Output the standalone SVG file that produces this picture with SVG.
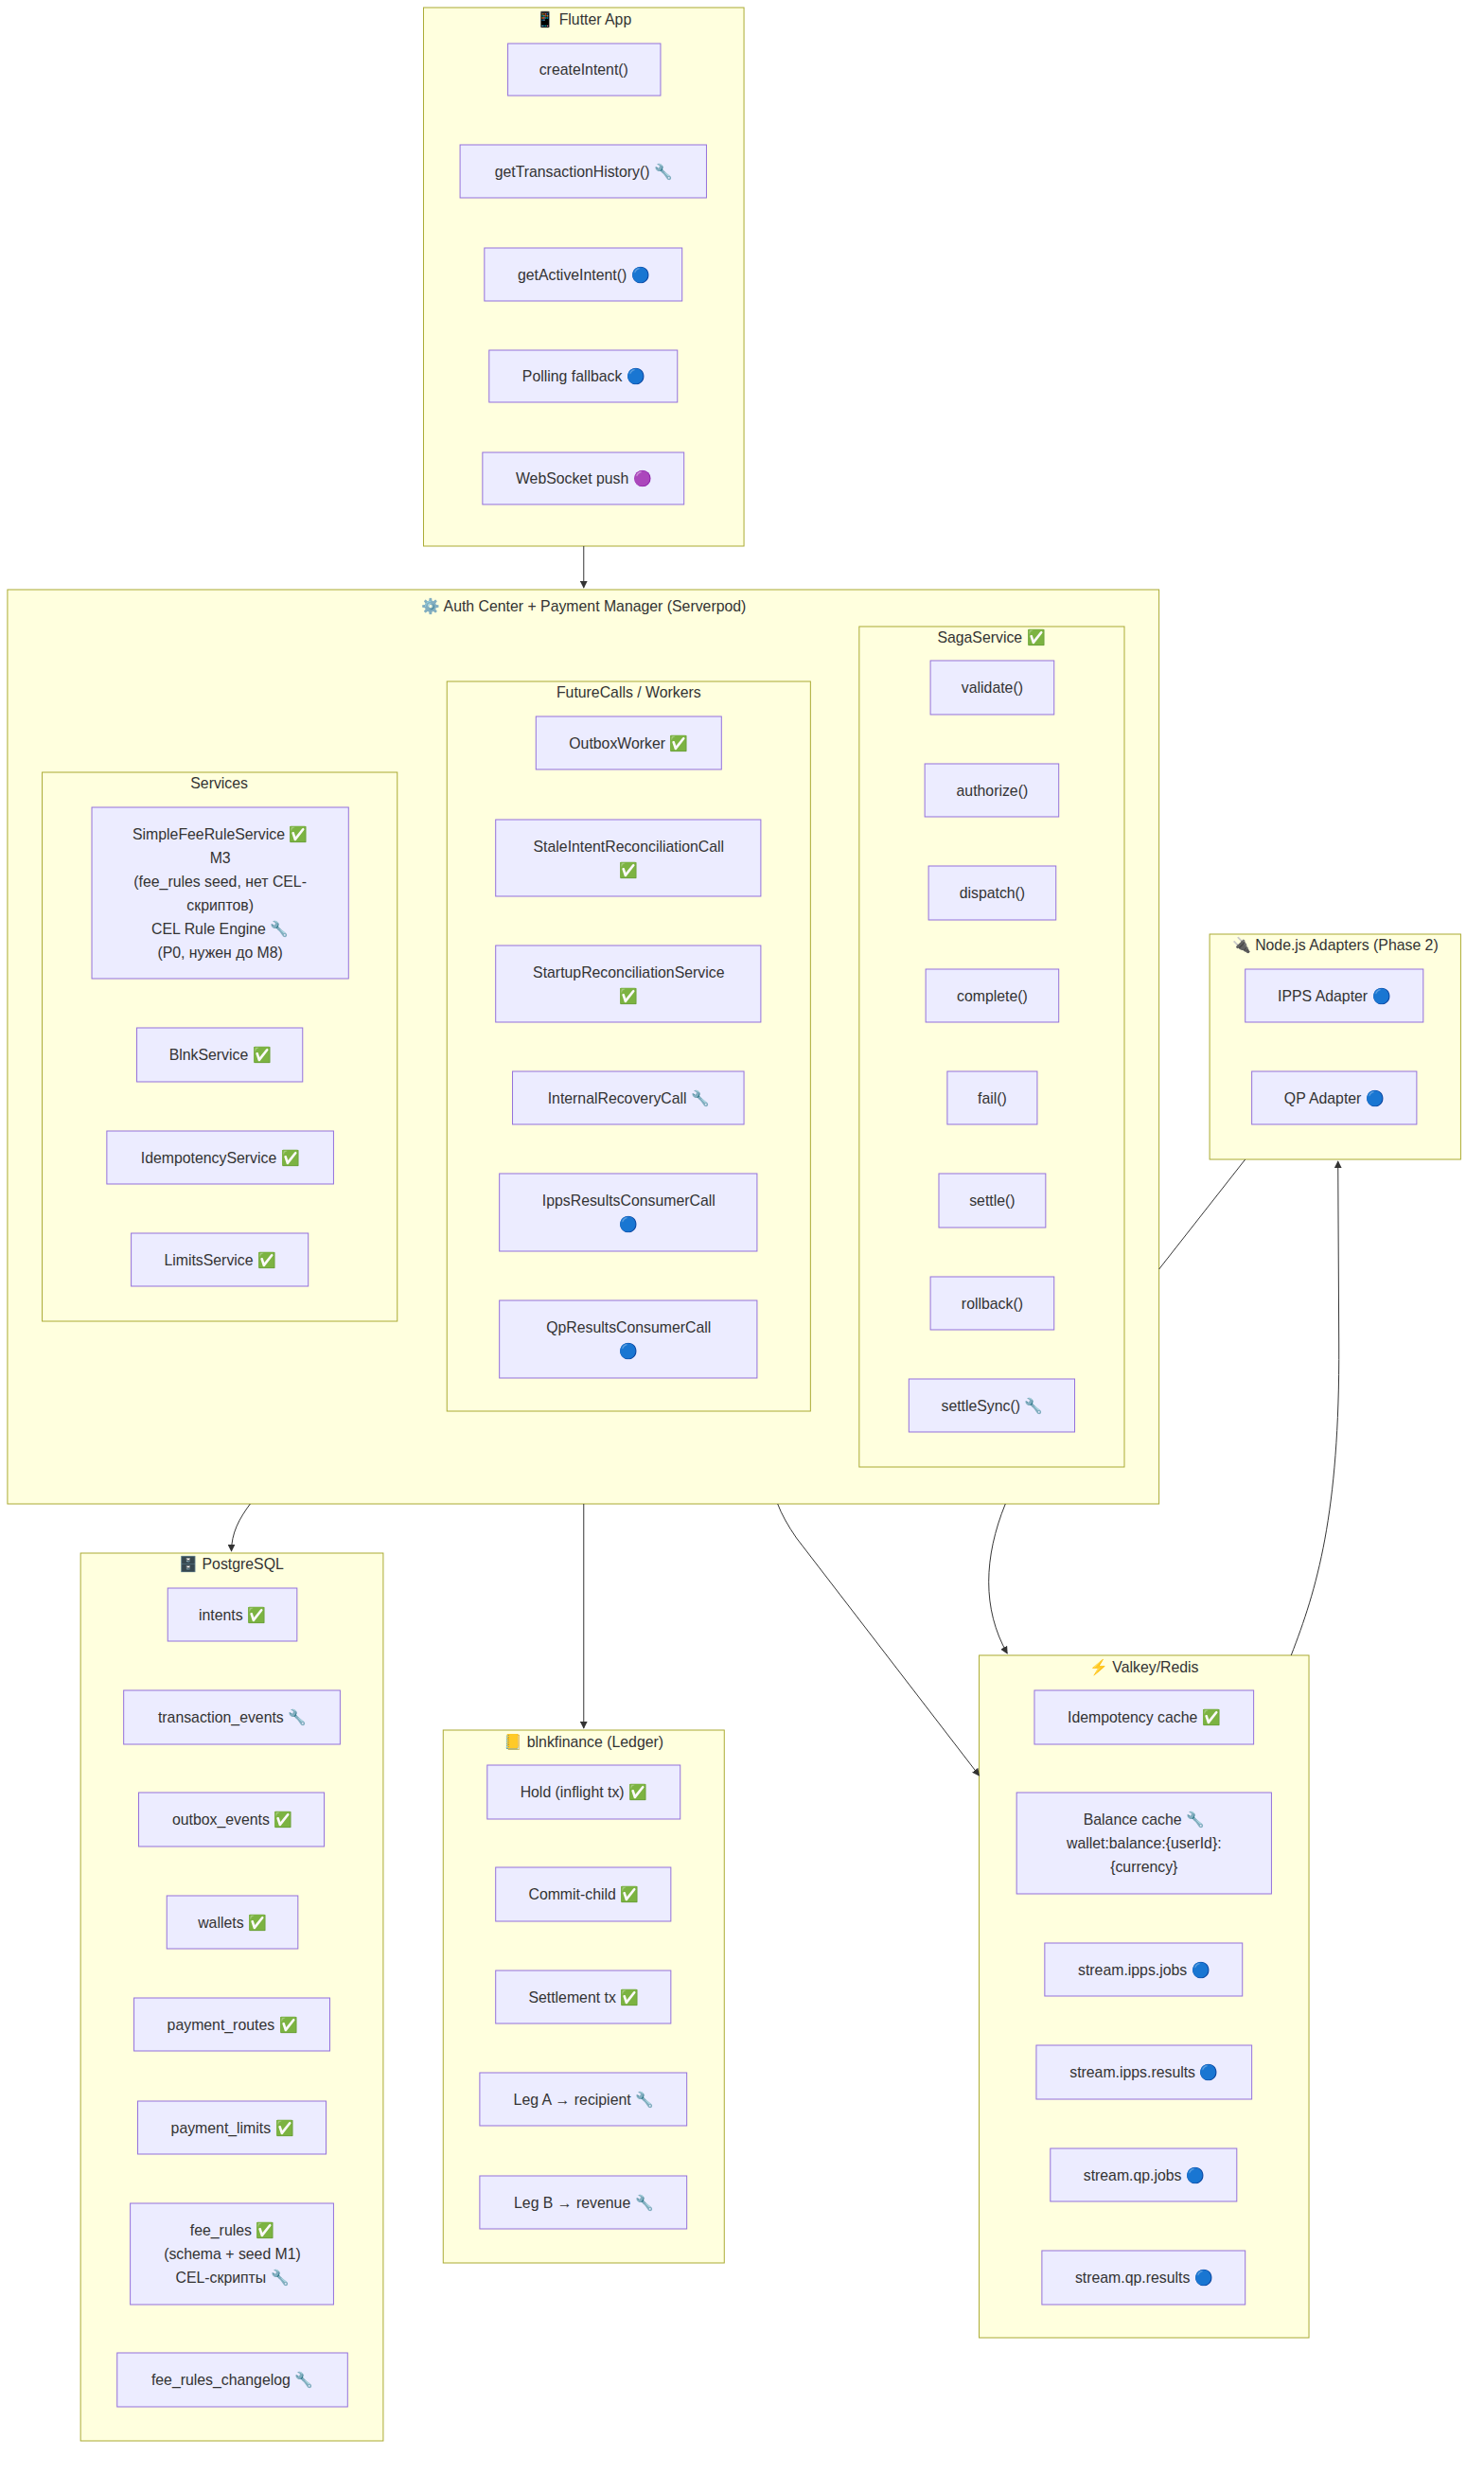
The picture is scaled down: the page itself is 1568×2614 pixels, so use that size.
<svg xmlns="http://www.w3.org/2000/svg" width="1568" height="2614" viewBox="0 0 1568 2614">
<style>
text{font-family:"Liberation Sans",Arial,"Noto Sans CJK SC",sans-serif;font-size:16px;fill:#333;text-anchor:middle;dominant-baseline:central}
.c{fill:#ffffde;stroke:#aaaa33;stroke-width:1}
.n{fill:#ECECFF;stroke:#9370DB;stroke-width:1}
.e{fill:none;stroke:#333;stroke-width:1}
</style>
<defs><marker id="a" viewBox="0 0 10 10" refX="9" refY="5" markerWidth="8" markerHeight="8" orient="auto"><path d="M0,0L10,5L0,10z" fill="#333"/></marker></defs>
<rect width="1568" height="2614" fill="#fff"/>
<g transform="matrix(0.99 0 0 1 0 0)">
<g id="flutter"><rect class="c" x="452" y="8" width="342" height="569"/><text x="623" y="20">📱 Flutter App</text></g>
<g id="auth"><rect class="c" x="8" y="623" width="1229" height="966"/><text x="623" y="640">⚙️ Auth Center + Payment Manager (Serverpod)</text></g>
<g id="saga"><rect class="c" x="917" y="662" width="283" height="888"/><text x="1058" y="673">SagaService ✅</text></g>
<g id="futurecalls"><rect class="c" x="477" y="720" width="388" height="771"/><text x="671" y="731">FutureCalls / Workers</text></g>
<g id="services"><rect class="c" x="45" y="816" width="379" height="580"/><text x="234" y="827">Services</text></g>
<g id="nodejs"><rect class="c" x="1291" y="987" width="268" height="238"/><text x="1425" y="998">🔌 Node.js Adapters (Phase 2)</text></g>
<g id="postgres"><rect class="c" x="86" y="1641" width="323" height="938"/><text x="247" y="1652">🗄️ PostgreSQL</text></g>
<g id="blnk"><rect class="c" x="473" y="1828" width="300" height="563"/><text x="623" y="1840">📒 blnkfinance (Ledger)</text></g>
<g id="valkey"><rect class="c" x="1045" y="1749" width="352" height="721"/><text x="1221" y="1761">⚡ Valkey/Redis</text></g>

<g id="connectors">
<path class="e" d="M623,577L623,621" marker-end="url(#a)"/>
<path class="e" d="M267,1589C255,1605 247,1620 247,1639" marker-end="url(#a)"/>
<path class="e" d="M623,1589L623,1826" marker-end="url(#a)"/>
<path class="e" d="M830,1589Q836,1605 850,1625L1045,1876" marker-end="url(#a)"/>
<path class="e" d="M1073,1589C1050,1645 1048,1700 1075,1747" marker-end="url(#a)"/>
<path class="e" d="M1378,1749C1405,1680 1430,1600 1429,1420L1428,1227" marker-end="url(#a)"/>
<path class="e" d="M1329,1225L1237,1341"/>
</g>

<g id="createIntent"><rect class="n" x="542" y="46" width="163" height="55"/><text x="623" y="73">createIntent()</text></g>
<g id="getTransactionHistory"><rect class="n" x="491" y="153" width="263" height="56"/><text x="623" y="181">getTransactionHistory() 🔧</text></g>
<g id="getActiveIntent"><rect class="n" x="517" y="262" width="211" height="56"/><text x="623" y="290">getActiveIntent() 🔵</text></g>
<g id="polling"><rect class="n" x="522" y="370" width="201" height="55"/><text x="623" y="397">Polling fallback 🔵</text></g>
<g id="websocket"><rect class="n" x="515" y="478" width="215" height="55"/><text x="623" y="505">WebSocket push 🟣</text></g>

<g id="validate"><rect class="n" x="993" y="698" width="132" height="57"/><text x="1059" y="726">validate()</text></g>
<g id="authorize"><rect class="n" x="987" y="807" width="143" height="56"/><text x="1059" y="835">authorize()</text></g>
<g id="dispatch"><rect class="n" x="991" y="915" width="136" height="57"/><text x="1059" y="943">dispatch()</text></g>
<g id="complete"><rect class="n" x="988" y="1024" width="142" height="56"/><text x="1059" y="1052">complete()</text></g>
<g id="fail"><rect class="n" x="1011" y="1132" width="96" height="56"/><text x="1059" y="1160">fail()</text></g>
<g id="settle"><rect class="n" x="1002" y="1240" width="114" height="57"/><text x="1059" y="1268">settle()</text></g>
<g id="rollback"><rect class="n" x="993" y="1349" width="132" height="56"/><text x="1059" y="1377">rollback()</text></g>
<g id="settleSync"><rect class="n" x="970" y="1457" width="177" height="56"/><text x="1059" y="1485">settleSync() 🔧</text></g>

<g id="outbox"><rect class="n" x="572" y="757" width="198" height="56"/><text x="671" y="785">OutboxWorker ✅</text></g>
<g id="stale"><rect class="n" x="529" y="866" width="283" height="81"/><text x="671" y="894">StaleIntentReconciliationCall</text><text x="671" y="919">✅</text></g>
<g id="startup"><rect class="n" x="529" y="999" width="283" height="81"/><text x="671" y="1027">StartupReconciliationService</text><text x="671" y="1052">✅</text></g>
<g id="internal"><rect class="n" x="547" y="1132" width="247" height="56"/><text x="671" y="1160">InternalRecoveryCall 🔧</text></g>
<g id="ippsres"><rect class="n" x="533" y="1240" width="275" height="82"/><text x="671" y="1268">IppsResultsConsumerCall</text><text x="671" y="1293">🔵</text></g>
<g id="qpres"><rect class="n" x="533" y="1374" width="275" height="82"/><text x="671" y="1402">QpResultsConsumerCall</text><text x="671" y="1427">🔵</text></g>

<g id="simplefee"><rect class="n" x="98" y="853" width="274" height="181"/>
<text x="235" y="881">SimpleFeeRuleService ✅</text><text x="235" y="906">M3</text><text x="235" y="931">(fee_rules seed, нет CEL-</text><text x="235" y="956">скриптов)</text><text x="235" y="981">CEL Rule Engine 🔧</text><text x="235" y="1006">(P0, нужен до M8)</text></g>
<g id="blnkservice"><rect class="n" x="146" y="1086" width="177" height="57"/><text x="235" y="1114">BlnkService ✅</text></g>
<g id="idemservice"><rect class="n" x="114" y="1195" width="242" height="56"/><text x="235" y="1223">IdempotencyService ✅</text></g>
<g id="limits"><rect class="n" x="140" y="1303" width="189" height="56"/><text x="235" y="1331">LimitsService ✅</text></g>

<g id="ipps"><rect class="n" x="1329" y="1024" width="190" height="56"/><text x="1424" y="1052">IPPS Adapter 🔵</text></g>
<g id="qp"><rect class="n" x="1336" y="1132" width="176" height="56"/><text x="1424" y="1160">QP Adapter 🔵</text></g>

<g id="intents"><rect class="n" x="179" y="1678" width="138" height="56"/><text x="248" y="1706">intents ✅</text></g>
<g id="txevents"><rect class="n" x="132" y="1786" width="231" height="57"/><text x="248" y="1814">transaction_events 🔧</text></g>
<g id="outboxevents"><rect class="n" x="148" y="1894" width="198" height="57"/><text x="248" y="1922">outbox_events ✅</text></g>
<g id="wallets"><rect class="n" x="178" y="2003" width="140" height="56"/><text x="248" y="2031">wallets ✅</text></g>
<g id="routes"><rect class="n" x="143" y="2111" width="209" height="56"/><text x="248" y="2139">payment_routes ✅</text></g>
<g id="plimits"><rect class="n" x="147" y="2220" width="201" height="56"/><text x="248" y="2248">payment_limits ✅</text></g>
<g id="feerules"><rect class="n" x="139" y="2328" width="217" height="107"/><text x="248" y="2356">fee_rules ✅</text><text x="248" y="2381">(schema + seed M1)</text><text x="248" y="2406">CEL-скрипты 🔧</text></g>
<g id="changelog"><rect class="n" x="125" y="2486" width="246" height="57"/><text x="248" y="2514">fee_rules_changelog 🔧</text></g>

<g id="hold"><rect class="n" x="520" y="1865" width="206" height="57"/><text x="623" y="1893">Hold (inflight tx) ✅</text></g>
<g id="commit"><rect class="n" x="529" y="1973" width="187" height="57"/><text x="623" y="2001">Commit-child ✅</text></g>
<g id="settlement"><rect class="n" x="529" y="2082" width="187" height="56"/><text x="623" y="2110">Settlement tx ✅</text></g>
<g id="legA"><rect class="n" x="512" y="2190" width="221" height="56"/><text x="623" y="2218">Leg A → recipient 🔧</text></g>
<g id="legB"><rect class="n" x="512" y="2299" width="221" height="56"/><text x="623" y="2327">Leg B → revenue 🔧</text></g>

<g id="idemcache"><rect class="n" x="1104" y="1786" width="234" height="57"/><text x="1221" y="1814">Idempotency cache ✅</text></g>
<g id="balcache"><rect class="n" x="1085" y="1894" width="272" height="107"/><text x="1221" y="1922">Balance cache 🔧</text><text x="1221" y="1947">wallet:balance:{userId}:</text><text x="1221" y="1972">{currency}</text></g>
<g id="ippsjobs"><rect class="n" x="1115" y="2053" width="211" height="56"/><text x="1221" y="2081">stream.ipps.jobs 🔵</text></g>
<g id="ippsresults"><rect class="n" x="1106" y="2161" width="230" height="57"/><text x="1221" y="2189">stream.ipps.results 🔵</text></g>
<g id="qpjobs"><rect class="n" x="1121" y="2270" width="199" height="56"/><text x="1221" y="2298">stream.qp.jobs 🔵</text></g>
<g id="qpresults"><rect class="n" x="1112" y="2378" width="217" height="57"/><text x="1221" y="2406">stream.qp.results 🔵</text></g>
</g>
</svg>
